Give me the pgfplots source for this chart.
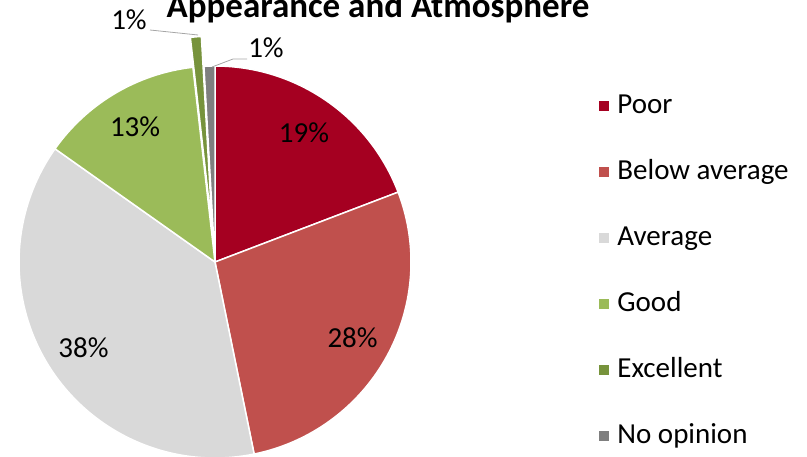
\documentclass[border=0pt]{standalone}
\usepackage{pgfplots}
\pgfplotsset{compat=1.18}
\usepackage{pgfplotstable}
\usepackage{fontspec}
\setmainfont{Carlito}
\definecolor{cPoor}{HTML}{A50021}
\definecolor{cBelow}{HTML}{C0504D}
\definecolor{cAvg}{HTML}{D9D9D9}
\definecolor{cGood}{HTML}{9BBB59}
\definecolor{cExc}{HTML}{77933C}
\definecolor{cNo}{HTML}{7F7F7F}
\definecolor{cLead}{HTML}{A6A6A6}
\newcommand\lbl{\fontsize{29}{34}\selectfont}
\pgfplotstableread[col sep=comma]{
label,value,pct,color,explode,inside
Poor,19.2,19,cPoor,0,1
Below average,27.6,28,cBelow,0,1
Average,38.0,38,cAvg,0,1
Good,13.4,13,cGood,0,1
Excellent,0.9,1,cExc,30,0
No opinion,0.9,1,cNo,0,0
}\piedata
\begin{document}
\begin{tikzpicture}
\useasboundingbox (0,0) rectangle (807pt,456pt);
\clip (0,0) rectangle (807pt,456pt);
\begin{axis}[at={(0,0)}, anchor=south west, scale only axis,
  width=807pt, height=456pt, xmin=0, xmax=807, ymin=0, ymax=456,
  hide axis, clip=false,
  legend image code/.code={\fill[#1, draw=none] (0pt,-5pt) rectangle (10pt,5pt); \path (16pt,0pt);},
  legend cell align=left,
  legend style={at={(axis cs:599,365)}, anchor=north west, draw=none, fill=none,
    font=\lbl, row sep=36pt, inner sep=0pt,
    nodes={inner sep=2pt, text height=20pt, text depth=6pt}},
]
\addlegendimage{fill=cPoor}\addlegendentry{Poor}
\addlegendimage{fill=cBelow}\addlegendentry{Below average}
\addlegendimage{fill=cAvg}\addlegendentry{Average}
\addlegendimage{fill=cGood}\addlegendentry{Good}
\addlegendimage{fill=cExc}\addlegendentry{Excellent}
\addlegendimage{fill=cNo}\addlegendentry{No opinion}
\pgfplotsextra{
  \def\cum{90}
  \pgfplotsforeachungrouped \i in {0,...,5}{
    \pgfplotstablegetelem{\i}{value}\of\piedata \let\val\pgfplotsretval
    \pgfplotstablegetelem{\i}{color}\of\piedata \let\col\pgfplotsretval
    \pgfplotstablegetelem{\i}{explode}\of\piedata \let\ex\pgfplotsretval
    \pgfplotstablegetelem{\i}{pct}\of\piedata \let\pct\pgfplotsretval
    \pgfplotstablegetelem{\i}{inside}\of\piedata \let\ins\pgfplotsretval
    \pgfmathsetmacro\a{\cum}
    \pgfmathsetmacro\b{\cum-3.6*\val}
    \pgfmathsetmacro\m{(\a+\b)/2}
    \fill[fill=\col, draw=white, line width=1.5pt, line join=round]
      ([shift={(\m:\ex pt)}]axis cs:215,194) -- ++(\a:196pt)
      arc[start angle=\a, end angle=\b, radius=196pt] -- cycle;
    \ifnum\ins=1
      \node[font=\lbl, text=black] at ([shift={(\m:157pt)}]axis cs:215,194) {\pct\%};
    \fi
    \xdef\cum{\b}
  }
  \draw[cLead, line width=0.8pt] (axis cs:150,426) -- (axis cs:198,421);
  \draw[cLead, line width=0.8pt] (axis cs:247,397) -- (axis cs:233,397) -- (axis cs:212,389);
  \node[font=\lbl, anchor=base] at (axis cs:129,426) {1\%};
  \node[font=\lbl, anchor=base] at (axis cs:266,398) {1\%};
  \node[font=\fontsize{35}{42}\selectfont\bfseries, anchor=base] at (axis cs:378,438) {Appearance and Atmosphere};
}
\end{axis}
\end{tikzpicture}
\end{document}
